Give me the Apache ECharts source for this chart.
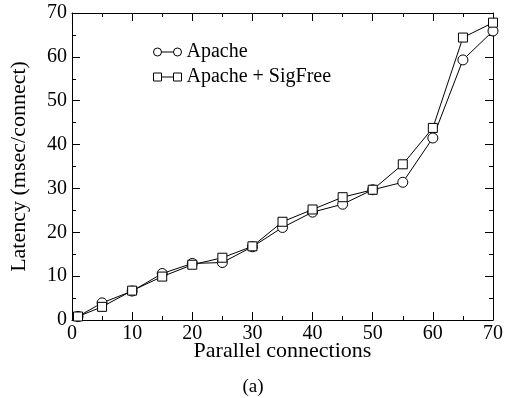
<!DOCTYPE html>
<html>
<head>
<meta charset="utf-8">
<script src="https://cdn.jsdelivr.net/npm/echarts@6/dist/echarts.min.js"></script>
<style>
  html, body { margin: 0; padding: 0; background: #fff; }
  #chart { width: 506px; height: 398px; }
</style>
</head>
<body>
<div id="chart"></div>
<script>
// data
const connections = [1, 5, 10, 15, 20, 25, 30, 35, 40, 45, 50, 55, 60, 65, 70];
const apache = [0.8, 3.9, 6.6, 10.6, 12.9, 13.1, 16.7, 21.1, 24.6, 26.4, 29.7, 31.4, 41.5, 59.3, 65.9];
const apacheSigFree = [0.8, 3.0, 6.7, 9.9, 12.6, 14.2, 16.8, 22.4, 25.2, 28.0, 29.7, 35.5, 43.8, 64.4, 67.8];
const seriesNames = ['Apache', 'Apache + SigFree'];

const FONT = 'Liberation Serif';

// legend icons: marker - line - marker
const circleIcon = 'path://M0 4A4 4 0 1 1 8 4A4 4 0 1 1 0 4Z M8 4L20 4 M20 4A4 4 0 1 1 28 4A4 4 0 1 1 20 4Z';
const squareIcon = 'path://M0 0L8 0L8 8L0 8Z M8 4L20 4 M20 0L28 0L28 8L20 8Z';

function pairs(xs, ys) {
  return xs.map((x, i) => [x, ys[i]]);
}

function valueAxis(extra) {
  return Object.assign({
    type: 'value',
    min: 0,
    max: 70,
    interval: 10,
    axisLine: { show: true, onZero: false, lineStyle: { color: '#000', width: 1 } },
    axisTick: { show: true, inside: true, length: 8, lineStyle: { color: '#000' } },
    minorTick: { show: true, splitNumber: 2, length: 4, lineStyle: { color: '#000' } },
    splitLine: { show: false },
    axisLabel: { show: false }
  }, extra);
}

const labelStyle = { show: true, color: '#000', fontFamily: FONT, fontSize: 20 };
const nameStyle = { color: '#000', fontFamily: FONT, fontSize: 22 };

const chart = echarts.init(document.getElementById('chart'), null, { renderer: 'canvas' });

const option = {
  animation: false,
  backgroundColor: '#fff',
  title: {
    text: '(a)',
    left: 'center',
    top: 373,
    textStyle: { color: '#000', fontFamily: FONT, fontSize: 19, fontWeight: 'normal' }
  },
  legend: {
    orient: 'vertical',
    left: 148,
    top: 37,
    itemWidth: 28,
    itemHeight: 8,
    itemGap: 5,
    selectedMode: false,
    itemStyle: { color: '#fff', borderColor: '#000', borderWidth: 1 },
    textStyle: { color: '#000', fontFamily: FONT, fontSize: 20, lineHeight: 20 },
    data: [
      { name: seriesNames[0], icon: circleIcon },
      { name: seriesNames[1], icon: squareIcon }
    ]
  },
  grid: { left: 58, right: 9, top: 13, bottom: 78 },
  xAxis: [
    valueAxis({
      position: 'bottom',
      name: 'Parallel connections',
      nameLocation: 'middle',
      nameGap: 20,
      nameMoveOverlap: false,
      nameTextStyle: nameStyle,
      axisLabel: Object.assign({ margin: 4 }, labelStyle)
    }),
    valueAxis({ position: 'top' })
  ],
  yAxis: [
    valueAxis({
      position: 'left',
      name: 'Latency (msec/connect)',
      nameLocation: 'middle',
      nameGap: 42,
      nameMoveOverlap: false,
      nameTextStyle: nameStyle,
      axisLabel: Object.assign({ margin: 5 }, labelStyle)
    }),
    valueAxis({ position: 'right' })
  ],
  series: [
    {
      name: seriesNames[0],
      type: 'line',
      data: pairs(connections, apache),
      symbol: 'circle',
      symbolSize: 10,
      showAllSymbol: true,
      lineStyle: { color: '#000', width: 1 },
      itemStyle: { color: '#fff', borderColor: '#000', borderWidth: 1 },
      emphasis: { disabled: true }
    },
    {
      name: seriesNames[1],
      type: 'line',
      data: pairs(connections, apacheSigFree),
      symbol: 'rect',
      symbolSize: 9,
      showAllSymbol: true,
      lineStyle: { color: '#000', width: 1 },
      itemStyle: { color: '#fff', borderColor: '#000', borderWidth: 1 },
      emphasis: { disabled: true }
    }
  ]
};

chart.setOption(option);
</script>
</body>
</html>
